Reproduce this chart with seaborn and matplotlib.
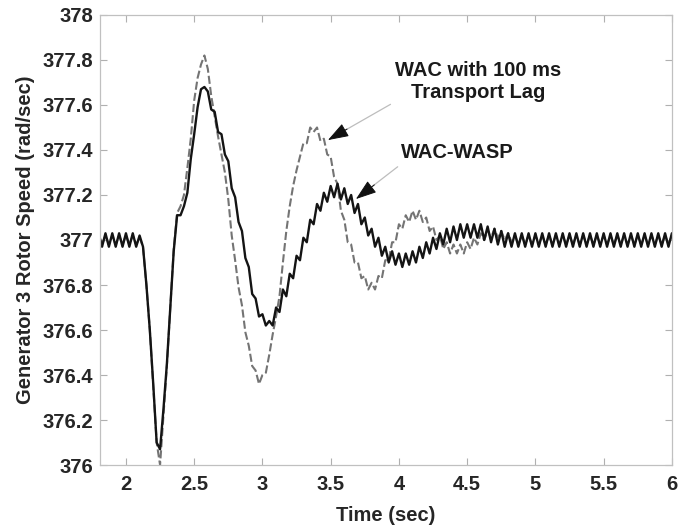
import numpy as np
import pandas as pd
import matplotlib
matplotlib.use("Agg")
import matplotlib.pyplot as plt
import seaborn as sns
from matplotlib.ticker import FormatStrFormatter, MultipleLocator

# time base: samples every 0.025 s from 1.8 s to 6.0 s
time = np.round(1.8 + 0.025 * np.arange(169), 3)

# WAC-WASP (solid black)
wasp = [
    377.03, 376.97, 377.03, 376.97, 377.03, 376.97, 377.03, 376.97, 377.03, 376.97,
    377.03, 376.97, 377.02, 376.97, 376.80, 376.60, 376.36, 376.10, 376.07, 376.25,
    376.45, 376.70, 376.95, 377.11, 377.11, 377.15, 377.21, 377.36, 377.47, 377.59,
    377.67, 377.68, 377.66, 377.58, 377.57, 377.48, 377.47, 377.38, 377.35, 377.23,
    377.19, 377.08, 377.04, 376.92, 376.88, 376.76, 376.74, 376.66, 376.67, 376.62,
    376.64, 376.62, 376.70, 376.68, 376.78, 376.75, 376.85, 376.83, 376.93, 376.91,
    377.01, 376.99, 377.09, 377.07, 377.16, 377.13, 377.21, 377.17, 377.24, 377.19,
    377.25, 377.18, 377.23, 377.16, 377.20, 377.12, 377.16, 377.07, 377.10, 377.02,
    377.05, 376.97, 377.01, 376.93, 376.97, 376.90, 376.95, 376.89, 376.94, 376.88,
    376.94, 376.89, 376.95, 376.90, 376.97, 376.92, 376.99, 376.94, 377.01, 376.96,
    377.03, 376.98, 377.05, 376.99, 377.06, 377.00, 377.07, 377.01, 377.07, 377.01,
    377.07, 377.01, 377.07, 377.00, 377.06, 376.99, 377.05, 376.98, 377.04, 376.97,
    377.03, 376.97, 377.03, 376.97, 377.03, 376.97, 377.03, 376.97, 377.03, 376.97,
    377.03, 376.97, 377.03, 376.97, 377.03, 376.97, 377.03, 376.97, 377.03, 376.97,
    377.03, 376.97, 377.03, 376.97, 377.03, 376.97, 377.03, 376.97, 377.03, 376.97,
    377.03, 376.97, 377.03, 376.97, 377.03, 376.97, 377.03, 376.97, 377.03, 376.97,
    377.03, 376.97, 377.03, 376.97, 377.03, 376.97, 377.03, 376.97, 377.03,
]

# WAC with 100 ms transport lag (dashed gray)
lag = [
    377.02, 376.98, 377.02, 376.98, 377.02, 376.98, 377.02, 376.98, 377.02, 376.98,
    377.02, 376.98, 377.01, 376.97, 376.80, 376.60, 376.35, 376.10, 376.00, 376.22,
    376.44, 376.70, 376.96, 377.12, 377.15, 377.20, 377.32, 377.45, 377.62, 377.72,
    377.78, 377.82, 377.76, 377.64, 377.55, 377.46, 377.38, 377.30, 377.18, 377.02,
    376.91, 376.79, 376.71, 376.59, 376.53, 376.44, 376.42, 376.36, 376.40, 376.41,
    376.49, 376.58, 376.66, 376.75, 376.90, 377.04, 377.15, 377.24, 377.31, 377.37,
    377.43, 377.43, 377.50, 377.48, 377.50, 377.44, 377.45, 377.38, 377.37, 377.28,
    377.25, 377.13, 377.09, 376.99, 376.98, 376.90, 376.90, 376.83, 376.84, 376.78,
    376.81, 376.78, 376.84, 376.83, 376.91, 376.91, 376.99, 376.99, 377.07, 377.05,
    377.11, 377.08, 377.13, 377.09, 377.13, 377.08, 377.10, 377.04, 377.06, 377.00,
    377.02, 376.96, 376.99, 376.94, 376.98, 376.94, 376.98, 376.94, 376.99, 376.96,
    377.01, 376.98, 377.03, 377.00, 377.04, 377.01, 377.05, 377.01, 377.04, 377.00,
    377.03, 376.99, 377.02, 376.98, 377.02, 376.98, 377.02, 376.98, 377.02, 376.98,
    377.02, 376.98, 377.02, 376.98, 377.02, 376.98, 377.02, 376.98, 377.02, 376.98,
    377.02, 376.98, 377.02, 376.98, 377.02, 376.98, 377.02, 376.98, 377.02, 376.98,
    377.02, 376.98, 377.02, 376.98, 377.02, 376.98, 377.02, 376.98, 377.02, 376.98,
    377.02, 376.98, 377.02, 376.98, 377.02, 376.98, 377.02, 376.98, 377.02,
]

df = pd.DataFrame({"t": time, "wasp": wasp, "lag": lag})

sns.set_style("ticks")
plt.rcParams["font.family"] = ["Liberation Sans", "DejaVu Sans"]
plt.rcParams["font.weight"] = "bold"
fs = 14.5

fig = plt.figure(figsize=(6.78, 5.27), dpi=100)
ax = fig.add_axes([0.1475, 0.1176, 0.8435, 0.854])

sns.lineplot(data=df, x="t", y="lag", ax=ax, color="#747474", lw=1.5,
             linestyle=(0, (3.9, 1.5)), estimator=None, sort=False)
sns.lineplot(data=df, x="t", y="wasp", ax=ax, color="#141414", lw=1.7,
             estimator=None, sort=False)

ax.set_xlim(1.81, 6)
ax.set_ylim(376, 378)
ax.xaxis.set_major_locator(MultipleLocator(0.5))
ax.yaxis.set_major_locator(MultipleLocator(0.2))
ax.xaxis.set_major_formatter(FormatStrFormatter("%g"))
ax.yaxis.set_major_formatter(FormatStrFormatter("%g"))
ax.tick_params(direction="in", top=True, right=True, length=5, width=0.8,
               color="#b0b0b0", labelsize=fs)
ax.tick_params(axis="x", pad=7)
ax.tick_params(axis="y", pad=5)
for lab in ax.get_xticklabels() + ax.get_yticklabels():
    lab.set_fontweight("bold")
for sp in ax.spines.values():
    sp.set_color("#c0c0c0")
    sp.set_linewidth(0.9)

ax.set_xlabel("Time (sec)", fontsize=fs, fontweight="bold", labelpad=9)
ax.set_ylabel("Generator 3 Rotor Speed (rad/sec)", fontsize=fs,
              fontweight="bold", labelpad=5)

arrow = dict(arrowstyle="-|>,head_length=1.3,head_width=0.45", color="#111111",
             lw=0.7, shrinkA=0, shrinkB=0)
ax.annotate("", xy=(3.48, 377.444), xytext=(3.956, 377.609),
            arrowprops=dict(arrowstyle="-", color="#bdbdbd", lw=0.9))
ax.annotate("", xy=(3.48, 377.444), xytext=(3.62, 377.493), arrowprops=arrow)
ax.annotate("", xy=(3.685, 377.182), xytext=(4.007, 377.333),
            arrowprops=dict(arrowstyle="-", color="#bdbdbd", lw=0.9))
ax.annotate("", xy=(3.685, 377.182), xytext=(3.82, 377.245), arrowprops=arrow)

ax.text(4.579, 377.704, "WAC with 100 ms\nTransport Lag", ha="center",
        va="center", fontsize=fs, fontweight="bold", linespacing=1.15,
        color="#1a1a1a")
ax.text(4.429, 377.387, "WAC-WASP", ha="center", va="center", fontsize=fs,
        fontweight="bold", color="#1a1a1a")

fig.savefig("out.png", dpi=100)
